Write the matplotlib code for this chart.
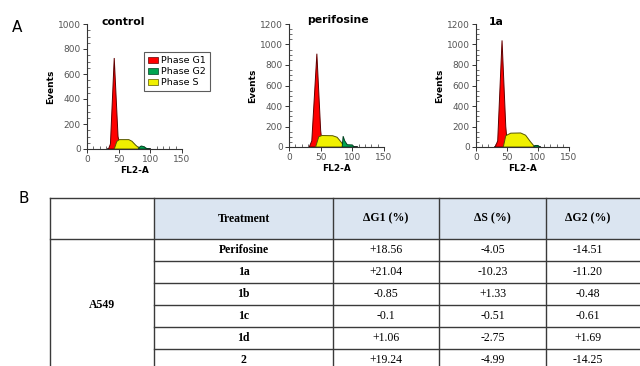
import matplotlib.pyplot as plt
from matplotlib.patches import Patch
from matplotlib.ticker import MultipleLocator

W, H = 640, 366

# ---- panel A: cell cycle histograms ----
panel_titles = ["control", "perifosine", "1a"]
panel_ymax = [1000, 1200, 1200]

g1_x = [[34, 37, 43, 49, 53], [32, 36, 44, 50, 53], [31, 35, 42, 48, 51]]
g1_y = [[0, 40, 728, 100, 0], [0, 60, 910, 160, 0], [0, 60, 1040, 200, 0]]

s_x = [[43, 47, 51, 66, 71, 77, 84], [42, 47, 52, 69, 76, 82, 88], [44, 48, 56, 72, 80, 88, 95]]
s_y = [[0, 60, 75, 75, 62, 30, 0], [0, 100, 112, 110, 95, 50, 0], [0, 110, 135, 137, 115, 50, 0]]

g2_x = [[81, 84, 86, 90, 94, 97], [84, 85.5, 88, 92, 100, 103], [93, 95, 100, 103]]
g2_y = [[0, 20, 24, 18, 5, 0], [0, 105, 60, 22, 20, 0], [0, 15, 15, 0]]

base_x = [[33, 100], [33, 108], [31, 104]]

# axes boxes in pixels: left, right, y of 0, y of top
axes_px = [(87, 182, 149, 24), (289, 384, 147, 24), (476, 569, 147, 24)]
title_px = [(102, 22), (307, 20), (489, 22)]

# ---- panel B: table ----
col_headers = ["Treatment", "\u0394G1 (%)", "\u0394S (%)", "\u0394G2 (%)"]
cell_line = "A549"
treatments = ["Perifosine", "1a", "1b", "1c", "1d", "2"]
d_g1 = ["+18.56", "+21.04", "-0.85", "-0.1", "+1.06", "+19.24"]
d_s = ["-4.05", "-10.23", "+1.33", "-0.51", "-2.75", "-4.99"]
d_g2 = ["-14.51", "-11.20", "-0.48", "-0.61", "+1.69", "-14.25"]

red, green, yellow = "#ff0000", "#00a550", "#f0f000"

fig = plt.figure(figsize=(W / 100, H / 100), dpi=100)

for i in range(3):
    l, r, y0, y1 = axes_px[i]
    ax = fig.add_axes([l / W, 1 - y0 / H, (r - l) / W, (y0 - y1) / H])
    ax.plot(base_x[i], [0, 0], color="black", lw=1.2, zorder=1)
    ax.fill(g1_x[i], g1_y[i], facecolor=red, edgecolor="#600000", lw=0.7, zorder=2)
    ax.fill(s_x[i], s_y[i], facecolor=yellow, edgecolor="#555500", lw=0.7, zorder=3)
    ax.fill(g2_x[i], g2_y[i], facecolor=green, edgecolor="#004020", lw=0.7, zorder=3)
    ax.set_xlim(0, 150)
    ax.set_ylim(0, panel_ymax[i])
    ax.xaxis.set_major_locator(MultipleLocator(50))
    ax.xaxis.set_minor_locator(MultipleLocator(10))
    ax.yaxis.set_major_locator(MultipleLocator(200))
    ax.yaxis.set_minor_locator(MultipleLocator(50))
    for side in ["top", "right"]:
        ax.spines[side].set_visible(False)
    for side in ["left", "bottom"]:
        ax.spines[side].set_linewidth(0.8)
        ax.spines[side].set_color("#333333")
    ax.tick_params(which="major", length=3, width=0.7, labelsize=6.5,
                   labelcolor="#555555", pad=1.5, color="#333333")
    ax.tick_params(which="minor", length=2, width=0.5, direction="in", color="#333333")
    ax.set_xlabel("FL2-A", fontsize=6.5, fontweight="bold", labelpad=1)
    ax.set_ylabel("Events", fontsize=6.5, fontweight="bold", labelpad=2)
    ax.patch.set_alpha(0)
    tx, ty = title_px[i]
    fig.text(tx / W, 1 - ty / H, panel_titles[i], fontsize=7.8,
             fontweight="bold", va="center", ha="left")
    if i == 0:
        handles = [Patch(facecolor=red, edgecolor="#600000", lw=0.5),
                   Patch(facecolor=green, edgecolor="#004020", lw=0.5),
                   Patch(facecolor=yellow, edgecolor="#555500", lw=0.5)]
        leg = fig.legend(handles, ["Phase G1", "Phase G2", "Phase S"],
                         loc="upper left", bbox_to_anchor=(144 / W, 1 - 52 / H),
                         fontsize=6.8, frameon=True, fancybox=False,
                         handlelength=1.0, handleheight=0.6, handletextpad=0.35,
                         borderpad=0.45, labelspacing=0.2, borderaxespad=0)
        leg.get_frame().set_edgecolor("#333333")
        leg.get_frame().set_linewidth(0.8)

fig.text(12 / W, 1 - 27 / H, "A", fontsize=11, va="center")
fig.text(18 / W, 1 - 198 / H, "B", fontsize=11, va="center")

# table drawn on a pixel-space overlay axes
tb = fig.add_axes([0, 0, 1, 1])
tb.set_xlim(0, W)
tb.set_ylim(H, 0)
tb.axis("off")

col_x = [50, 154, 333, 439, 546, 645]
top, head_bot, row_h = 198, 239, 22
row_y = [head_bot + k * row_h for k in range(len(treatments) + 1)]
line_c = "#3a3a3a"

tb.fill_between([col_x[1], col_x[-1]], top, head_bot, color="#dbe5f1", lw=0)
tb.plot([col_x[0], col_x[-1]], [top, top], color=line_c, lw=1)
tb.plot([col_x[0], col_x[-1]], [head_bot, head_bot], color=line_c, lw=1)
for y in row_y[1:]:
    tb.plot([col_x[1], col_x[-1]], [y, y], color=line_c, lw=1)
for x in col_x[:-1]:
    tb.plot([x, x], [top, H + 5], color=line_c, lw=1)

serif = "Liberation Serif"
fs = 8.5
for j, h in enumerate(col_headers):
    tb.text((col_x[j + 1] + col_x[j + 2]) / 2 if j < 3 else (col_x[4] + 630) / 2,
            (top + head_bot) / 2, h, ha="center", va="center",
            fontsize=fs, fontweight="bold", family=serif)
tb.text((col_x[0] + col_x[1]) / 2, 305, cell_line, ha="center", va="center",
        fontsize=fs, fontweight="bold", family=serif)
for k in range(len(treatments)):
    yc = head_bot + (k + 0.5) * row_h
    tb.text((col_x[1] + col_x[2]) / 2, yc, treatments[k], ha="center", va="center",
            fontsize=fs, fontweight="bold", family=serif)
    for j, vals in enumerate([d_g1, d_s, d_g2]):
        xc = (col_x[j + 2] + col_x[j + 3]) / 2 if j < 2 else (col_x[4] + 630) / 2
        tb.text(xc, yc, vals[k], ha="center", va="center", fontsize=fs, family=serif)

fig.savefig("out.png", dpi=100)
